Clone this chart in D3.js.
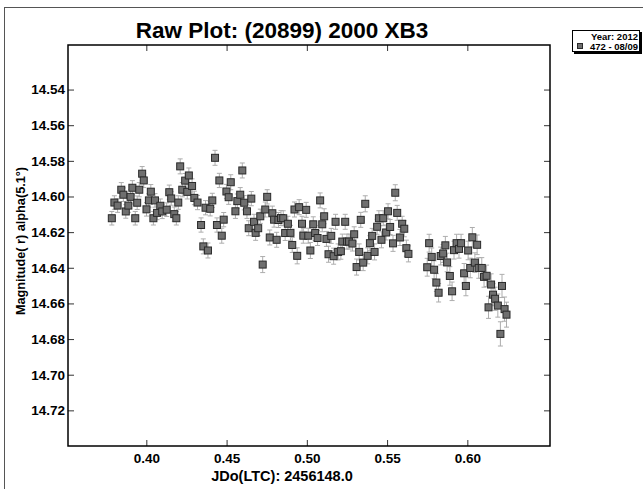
<!DOCTYPE html>
<html>
<head>
<meta charset="utf-8">
<script src="https://cdn.jsdelivr.net/npm/d3@7/dist/d3.min.js"></script>
<style>
  html, body { margin: 0; padding: 0; background: #fff; }
  svg { display: block; font-family: "Liberation Sans", Arial, sans-serif; }
</style>
</head>
<body>
<svg id="chart" width="643" height="489"></svg>
<script>
// Session 472 lightcurve, (20899) 2000 XB3, 2012-08-09
const jd = [
  0.3785, 0.3801, 0.3821, 0.3844, 0.3857, 0.3872, 0.3888, 0.3902, 0.3913, 0.3931,
  0.3943, 0.3956, 0.3974, 0.3984, 0.4001, 0.4016, 0.4028, 0.4044, 0.4054, 0.4067,
  0.4087, 0.4099, 0.4127, 0.4143, 0.4155, 0.4174, 0.4187, 0.4199, 0.4211, 0.4224,
  0.4242, 0.4255, 0.4265, 0.4285, 0.4299, 0.4319, 0.4341, 0.4355, 0.4369, 0.4384,
  0.4398, 0.4411, 0.4428, 0.4440, 0.4455, 0.4470, 0.4482, 0.4499, 0.4513, 0.4526,
  0.4555, 0.4567, 0.4585, 0.4598, 0.4610, 0.4627, 0.4638, 0.4654, 0.4671, 0.4681,
  0.4697, 0.4710, 0.4725, 0.4741, 0.4753, 0.4769, 0.4785, 0.4796, 0.4812, 0.4823,
  0.4839, 0.4853, 0.4865, 0.4882, 0.4898, 0.4909, 0.4923, 0.4940, 0.4952, 0.4970,
  0.4978, 0.4996, 0.5009, 0.5022, 0.5040, 0.5052, 0.5067, 0.5083, 0.5096, 0.5108,
  0.5122, 0.5135, 0.5152, 0.5167, 0.5179, 0.5195, 0.5212, 0.5221, 0.5239, 0.5250,
  0.5263, 0.5284, 0.5295, 0.5310, 0.5326, 0.5336, 0.5351, 0.5364, 0.5379, 0.5393,
  0.5407, 0.5422, 0.5438, 0.5449, 0.5465, 0.5476, 0.5494, 0.5506, 0.5519, 0.5537,
  0.5551, 0.5563, 0.5580, 0.5594, 0.5607, 0.5620, 0.5633, 0.5750, 0.5762, 0.5778,
  0.5793, 0.5807, 0.5821, 0.5834, 0.5849, 0.5863, 0.5874, 0.5891, 0.5905, 0.5917,
  0.5933, 0.5948, 0.5961, 0.5980, 0.5991, 0.6005, 0.6018, 0.6031, 0.6047, 0.6061,
  0.6071, 0.6090, 0.6104, 0.6120, 0.6132, 0.6148, 0.6160, 0.6173, 0.6190, 0.6206,
  0.6216, 0.6232, 0.6244
];
const mag = [
  14.6122, 14.6034, 14.6051, 14.5962, 14.5990, 14.6084, 14.6051, 14.6002, 14.5951, 14.6122,
  14.6035, 14.5962, 14.5872, 14.5910, 14.6072, 14.6022, 14.5973, 14.6122, 14.6022, 14.6092,
  14.6052, 14.6084, 14.6074, 14.5976, 14.6011, 14.6099, 14.6122, 14.6034, 14.5831, 14.5962,
  14.5911, 14.5974, 14.5882, 14.5941, 14.6008, 14.6034, 14.6160, 14.6280, 14.6063, 14.6303,
  14.6069, 14.6022, 14.5783, 14.6160, 14.5910, 14.6220, 14.6130, 14.5972, 14.6004, 14.5920,
  14.6083, 14.6026, 14.5990, 14.5854, 14.6035, 14.6083, 14.6178, 14.6012, 14.6142, 14.6204,
  14.6178, 14.6111, 14.6382, 14.6073, 14.6002, 14.6230, 14.6094, 14.6130, 14.6243, 14.6132,
  14.6121, 14.6122, 14.6205, 14.6153, 14.6204, 14.6272, 14.6073, 14.6333, 14.6060, 14.6153,
  14.6220, 14.6075, 14.6220, 14.6303, 14.6156, 14.6205, 14.6233, 14.6022, 14.6156, 14.6111,
  14.6238, 14.6324, 14.6221, 14.6335, 14.6142, 14.6311, 14.6307, 14.6253, 14.6142, 14.6253,
  14.6253, 14.6264, 14.6212, 14.6396, 14.6311, 14.6131, 14.6371, 14.6041, 14.6333, 14.6262,
  14.6221, 14.6311, 14.6170, 14.6122, 14.6243, 14.6122, 14.6202, 14.6083, 14.6171, 14.6263,
  14.5979, 14.6092, 14.6230, 14.6153, 14.6181, 14.6290, 14.6322, 14.6397, 14.6262, 14.6339,
  14.6411, 14.6483, 14.6540, 14.6334, 14.6320, 14.6274, 14.6370, 14.6446, 14.6532, 14.6301,
  14.6262, 14.6294, 14.6262, 14.6431, 14.6502, 14.6303, 14.6401, 14.6229, 14.6371, 14.6271,
  14.6401, 14.6401, 14.6451, 14.6445, 14.6622, 14.6494, 14.6551, 14.6574, 14.6612, 14.6771,
  14.6502, 14.6632, 14.6663
];
const magErr = [
  0.0038, 0.0038, 0.0038, 0.0040, 0.0038, 0.0038, 0.0038, 0.0040, 0.0040, 0.0038,
  0.0038, 0.0040, 0.0040, 0.0040, 0.0038, 0.0038, 0.0040, 0.0038, 0.0038, 0.0038,
  0.0038, 0.0040, 0.0038, 0.0040, 0.0038, 0.0040, 0.0038, 0.0038, 0.0042, 0.0040,
  0.0040, 0.0040, 0.0042, 0.0040, 0.0038, 0.0040, 0.0040, 0.0042, 0.0040, 0.0042,
  0.0040, 0.0040, 0.0042, 0.0040, 0.0040, 0.0042, 0.0040, 0.0040, 0.0040, 0.0042,
  0.0040, 0.0040, 0.0040, 0.0042, 0.0040, 0.0040, 0.0042, 0.0040, 0.0042, 0.0042,
  0.0042, 0.0040, 0.0045, 0.0042, 0.0040, 0.0042, 0.0040, 0.0042, 0.0042, 0.0042,
  0.0042, 0.0042, 0.0042, 0.0042, 0.0042, 0.0042, 0.0042, 0.0045, 0.0042, 0.0042,
  0.0042, 0.0042, 0.0042, 0.0045, 0.0042, 0.0042, 0.0042, 0.0042, 0.0042, 0.0042,
  0.0042, 0.0045, 0.0042, 0.0045, 0.0042, 0.0045, 0.0045, 0.0042, 0.0042, 0.0042,
  0.0042, 0.0042, 0.0042, 0.0045, 0.0045, 0.0042, 0.0045, 0.0045, 0.0045, 0.0042,
  0.0042, 0.0045, 0.0042, 0.0042, 0.0045, 0.0042, 0.0042, 0.0042, 0.0042, 0.0045,
  0.0045, 0.0042, 0.0045, 0.0042, 0.0045, 0.0045, 0.0045, 0.0050, 0.0050, 0.0050,
  0.0050, 0.0050, 0.0052, 0.0050, 0.0050, 0.0050, 0.0052, 0.0052, 0.0052, 0.0050,
  0.0050, 0.0052, 0.0050, 0.0055, 0.0055, 0.0052, 0.0055, 0.0055, 0.0055, 0.0055,
  0.0058, 0.0058, 0.0058, 0.0060, 0.0062, 0.0060, 0.0062, 0.0065, 0.0065, 0.0068,
  0.0065, 0.0068, 0.0070
];

const xTicks = [0.40, 0.45, 0.50, 0.55, 0.60];
const yTicks = [14.54, 14.56, 14.58, 14.60, 14.62, 14.64, 14.66, 14.68, 14.70, 14.72];

const titleText = "Raw Plot: (20899) 2000 XB3";
const xTitle = "JDo(LTC): 2456148.0";
const yTitle = "Magnitude( r) alpha(5.1°)";
const legendYear = "Year: 2012";
const legendSession = "472 - 08/09";

const svg = d3.select("#chart");
const plot = { left: 68, right: 550, top: 45, bottom: 446 };

const x = d3.scaleLinear().domain([0.3512, 0.6515]).range([plot.left, plot.right]);
const y = d3.scaleLinear().domain([14.515, 14.74]).range([plot.top, plot.bottom]);

// outer page border
svg.append("rect")
  .attr("x", 4.5).attr("y", 7.5)
  .attr("width", 700).attr("height", 600)
  .attr("fill", "none").attr("stroke", "#555").attr("stroke-width", 1);

// title
svg.append("text")
  .attr("x", 282).attr("y", 38)
  .attr("text-anchor", "middle")
  .attr("font-size", 22.5).attr("font-weight", "bold")
  .text(titleText);

// axes with inward ticks on all four sides
const tickLen = 6;
const fmt = d3.format(".2f");

const gx = svg.append("g").attr("transform", `translate(0,${plot.bottom})`)
  .call(d3.axisBottom(x).tickValues(xTicks).tickFormat(fmt).tickSize(-tickLen).tickPadding(7));
const gxt = svg.append("g").attr("transform", `translate(0,${plot.top})`)
  .call(d3.axisTop(x).tickValues(xTicks).tickFormat("").tickSize(-tickLen));
const gy = svg.append("g").attr("transform", `translate(${plot.left},0)`)
  .call(d3.axisLeft(y).tickValues(yTicks).tickFormat(fmt).tickSize(-tickLen).tickPadding(3));
const gyr = svg.append("g").attr("transform", `translate(${plot.right},0)`)
  .call(d3.axisRight(y).tickValues(yTicks).tickFormat("").tickSize(-tickLen));

[gx, gxt, gy, gyr].forEach(g => {
  g.select(".domain").remove();
  g.selectAll(".tick line").attr("stroke", "#333").attr("stroke-width", 1);
  g.selectAll(".tick text")
    .attr("fill", "#000")
    .attr("font-size", 13.5)
    .attr("font-weight", "bold")
    .attr("font-family", "'Liberation Sans', Arial, sans-serif");
});

// frame
svg.append("rect")
  .attr("x", plot.left).attr("y", plot.top)
  .attr("width", plot.right - plot.left).attr("height", plot.bottom - plot.top)
  .attr("fill", "none").attr("stroke", "#000").attr("stroke-width", 1.5);

// axis titles
svg.append("text")
  .attr("x", 282).attr("y", 481)
  .attr("text-anchor", "middle")
  .attr("font-size", 14.5).attr("font-weight", "bold")
  .text(xTitle);

svg.append("text")
  .attr("transform", `translate(21,241) rotate(-90)`)
  .attr("text-anchor", "middle")
  .attr("dominant-baseline", "central")
  .attr("font-size", 12.7).attr("font-weight", "bold")
  .text(yTitle);

// observations: error bars first, then square markers
const obs = jd.map((d, i) => ({ t: d, m: mag[i], e: magErr[i] }));
const cap = 2.5;
const bars = svg.append("g").attr("stroke", "#adadad").attr("stroke-width", 1);
obs.forEach(d => {
  const cx = x(d.t), y0 = y(d.m - d.e), y1 = y(d.m + d.e);
  bars.append("line").attr("x1", cx).attr("x2", cx).attr("y1", y0).attr("y2", y1);
  bars.append("line").attr("x1", cx - cap).attr("x2", cx + cap).attr("y1", y0).attr("y2", y0);
  bars.append("line").attr("x1", cx - cap).attr("x2", cx + cap).attr("y1", y1).attr("y2", y1);
});

const ms = 7;
svg.append("g").selectAll("rect").data(obs).join("rect")
  .attr("x", d => x(d.t) - ms / 2)
  .attr("y", d => y(d.m) - ms / 2)
  .attr("width", ms).attr("height", ms)
  .attr("fill", "#6f6f6f")
  .attr("stroke", "#2a2a2a").attr("stroke-width", 1);

// legend
const lg = svg.append("g");
lg.append("rect").attr("x", 574).attr("y", 32).attr("width", 68).attr("height", 22).attr("fill", "#000");
lg.append("rect").attr("x", 572.5).attr("y", 30.5).attr("width", 67).attr("height", 21)
  .attr("fill", "#fff").attr("stroke", "#000").attr("stroke-width", 1);
lg.append("text").attr("x", 638).attr("y", 39.5).attr("text-anchor", "end")
  .attr("font-size", 9.5).attr("font-weight", "bold").text(legendYear);
lg.append("rect").attr("x", 577.5).attr("y", 43.5).attr("width", 5).attr("height", 5)
  .attr("fill", "#6f6f6f").attr("stroke", "#2a2a2a").attr("stroke-width", 1);
lg.append("text").attr("x", 638).attr("y", 50).attr("text-anchor", "end")
  .attr("font-size", 9.5).attr("font-weight", "bold").text(legendSession);
</script>
</body>
</html>
